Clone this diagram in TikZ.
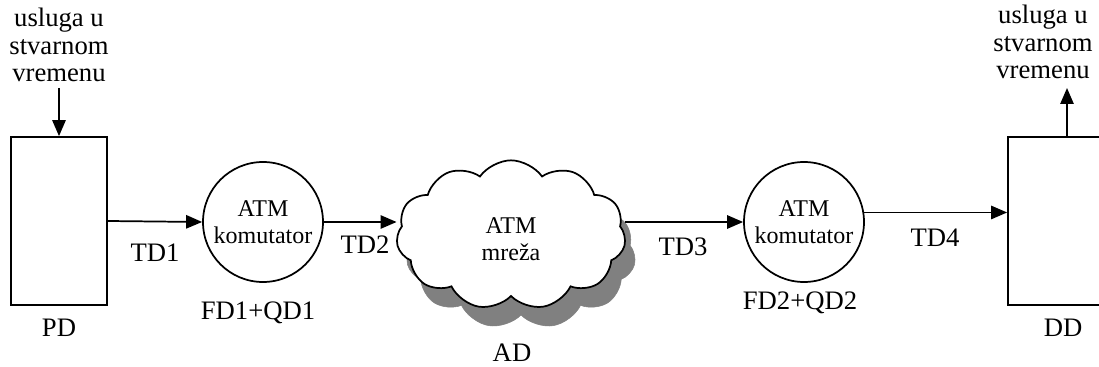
\documentclass[tikz,border=0pt]{standalone}
\usepackage{fontspec}
\setmainfont{Liberation Serif}
\usetikzlibrary{arrows.meta,shapes.symbols,positioning}
\tikzset{%
        arrow/.style = { line width=1.3pt, -{Triangle[length=12pt,width=10pt]} },
          box/.style = { draw, line width=1.3pt, minimum width=72pt, minimum height=126pt, inner sep=0pt },
          kom/.style = { draw, circle, line width=1.3pt, minimum size=90pt, inner sep=0pt, align=center },
          txt/.style = { align=center, inner sep=0pt, font=\fontsize{20}{20.5}\selectfont },
        oblak/.style = { cloud, cloud puffs=11, cloud puff arc=110, cloud ignores aspect, minimum width=172pt, minimum height=112pt, inner sep=0pt }
}
\begin{document}
\begin{tikzpicture}[x=0.75pt,y=-0.75pt,font=\fontsize{18}{20.5}\selectfont]
\clip (0,0) rectangle (1099,367);
\fill[white] (0,0) rectangle (1099,367);
% izvor i odrediste
\node[box] (pd) at (59,221) {};
\node[box] (dd) at (1056,221) {};
\node[txt] (usl1) at (59,45) {usluga u\\stvarnom\\vremenu};
\node[txt] (usl2) at (1043,42) {usluga u\\stvarnom\\vremenu};
\coordinate (ul) at (59,88);
\coordinate (ud) at (1067,88);
% komutatori
\node[kom] (kom1) at (263,222) {ATM\\komutator};
\node[kom] (kom2) at (804,222) {ATM\\komutator};
% mreza sa sjenom
\node[oblak, fill=gray, draw=gray] (sjena) at (521,254) {};
\node[oblak, draw, fill=white, line width=1.3pt] (mreza) at (511,235) {};
\node[align=center, inner sep=0pt] (atm) at (511,239) {ATM\\mreža};
% veze
\draw[arrow] (ul) -- (pd.north);
\draw[arrow] (pd.east) -- (kom1.west);
\draw[arrow] (kom1.east) -- (kom1.east -| mreza.west);
\draw[arrow] (mreza.east |- kom2.west) -- (kom2.west);
\draw[arrow] (kom2.9) -- (kom2.9 -| dd.west);
\draw[arrow] (ud |- dd.north) -- (ud);
% oznake
\node[txt] (td1) at (155,253) {TD1};
\node[txt] (td2) at (365,245) {TD2};
\node[txt] (td3) at (683,247) {TD3};
\node[txt] (td4) at (935,238) {TD4};
\node[txt] (lpd) at (59,328) {PD};
\node[txt] (ldd) at (1063,328) {DD};
\node[txt] (fq1) at (258,313) {FD1+QD1};
\node[txt] (fq2) at (800,303) {FD2+QD2};
\node[txt] (lad) at (512,353) {AD};
\end{tikzpicture}
\end{document}
